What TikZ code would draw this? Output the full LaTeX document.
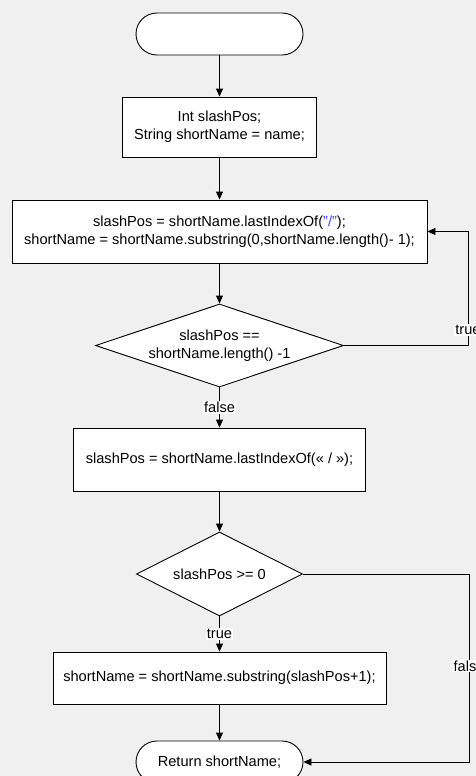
\documentclass[tikz,border=0pt]{standalone}
\usepackage{fontspec}
\setmainfont{Liberation Sans}
\usetikzlibrary{arrows.meta,shapes.geometric}
\definecolor{bg}{RGB}{240,240,240}
\definecolor{qblue}{RGB}{60,60,255}
\begin{document}
\begin{tikzpicture}[x=1pt,y=-1pt,
  every node/.style={font=\fontsize{14.6}{17.7}\selectfont},
  box/.style={draw=black, fill=white, line width=0.9pt, rectangle, inner sep=0pt, align=center},
  term/.style={box, rounded corners=21pt, minimum width=167pt, minimum height=42pt},
  dia/.style={draw=black, fill=white, line width=0.9pt, diamond, inner sep=0pt},
  arr/.style={draw=black, line width=0.9pt, -{Triangle[length=8pt,width=7pt]}},
  lbl/.style={fill=white, inner sep=1pt}]
\fill[bg] (0,0) rectangle (476,776);
\useasboundingbox (0,0) rectangle (476,776);
\clip (0,0) rectangle (476,776);

\node[term] (start) at (219.5,34) {};
\node[box, minimum width=194pt, minimum height=60pt] (b1) at (219.5,127) {Int slashPos;\\String shortName = name;};
\node[box, minimum width=415pt, minimum height=63pt] (b2) at (219.5,231.5) {slashPos = shortName.lastIndexOf(\textcolor{qblue}{"/"});\\shortName = shortName.substring(0,shortName.length()- 1);};
\node[dia, minimum width=248pt, minimum height=83pt] (d1) at (219.5,345.5) {};
\node[align=center] (d1t) at (d1) {slashPos ==\\shortName.length() -1};
\node[box, minimum width=292pt, minimum height=63pt] (b3) at (219.5,459.5) {slashPos = shortName.lastIndexOf(« / »);};
\node[dia, minimum width=166pt, minimum height=84pt] (d2) at (219.5,574) {};
\node (d2t) at (d2) {slashPos >= 0};
\node[box, minimum width=333pt, minimum height=52pt] (b4) at (219.5,678) {shortName = shortName.substring(slashPos+1);};
\node[term] (ret) at (219.5,762) {Return shortName;};

\coordinate (c1) at (468,345.5);
\coordinate (c1b) at (468,231.5);
\coordinate (c2) at (469,574);
\coordinate (c2b) at (469,762);

\draw[arr] (start) -- (b1);
\draw[arr] (b1) -- (b2);
\draw[arr] (b2) -- (d1);
\draw[arr] (d1) -- node[lbl]{false} (b3);
\draw[arr] (b3) -- (d2);
\draw[arr] (d2) -- node[lbl]{true} (b4);
\draw[arr] (b4) -- (ret);
\draw[arr] (d1.east) -- (c1) -- node[lbl, pos=0.136]{true} (c1b) -- (b2.east);
\draw[arr] (d2.east) -- (c2) -- node[lbl, pos=0.49]{false} (c2b) -- (ret.east);
\end{tikzpicture}
\end{document}
